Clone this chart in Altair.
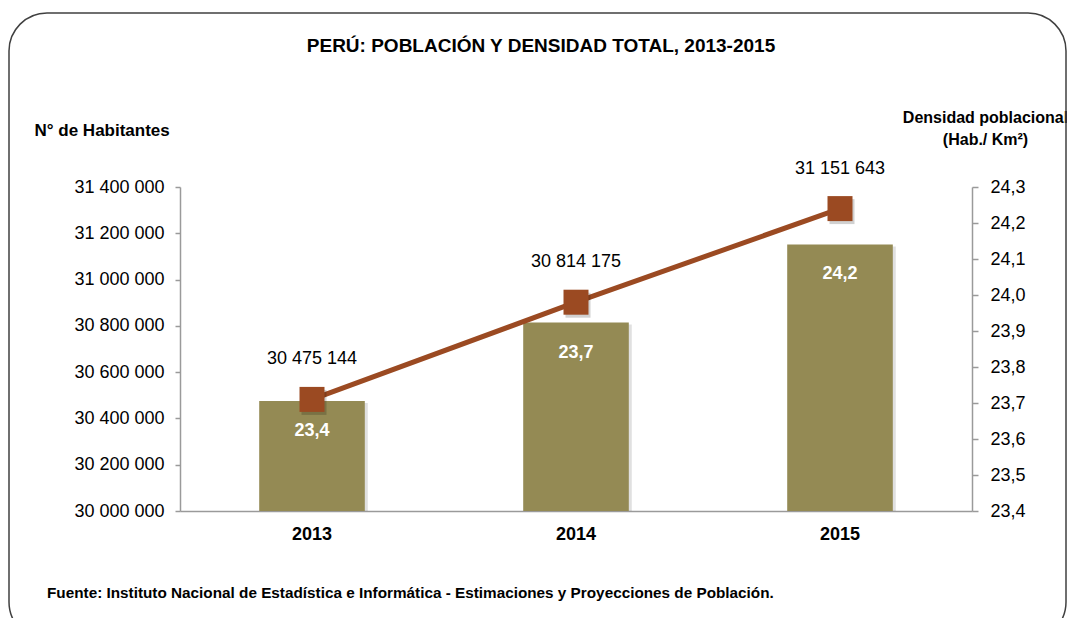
import altair as alt
import pandas as pd

# ---------------- data ----------------
anios = ["2013", "2014", "2015"]
poblacion = [30475144, 30814175, 31151643]
densidad_etiqueta = [23.4, 23.7, 24.2]
densidad_linea = [23.71, 23.98, 24.24]

ticks_pob = [30000000, 30200000, 30400000, 30600000, 30800000,
             31000000, 31200000, 31400000]
ticks_dens = [23.4, 23.5, 23.6, 23.7, 23.8, 23.9, 24.0, 24.1, 24.2, 24.3]

titulo = ["PERÚ: POBLACIÓN Y DENSIDAD TOTAL, 2013-2015"]
titulo_izq = "N° de Habitantes"
titulo_der = ["Densidad poblacional", "(Hab./ Km²)"]
fuente = ["Fuente: Instituto Nacional de Estadística e Informática - Estimaciones y Proyecciones de Población."]

df = pd.DataFrame({
    "anio": anios,
    "poblacion": poblacion,
    "densidad_barra": densidad_etiqueta,
    "densidad": densidad_linea,
})

FONT = "Liberation Sans"
OLIVA = "#948A54"
OXIDO = "#9B4A22"
GRIS = "#9A9A9A"

base = alt.Chart(df).encode(
    x=alt.X(
        "anio:N", title=None,
        scale=alt.Scale(paddingInner=0.6, paddingOuter=0.3),
        axis=alt.Axis(labelAngle=0, labelFontSize=18, labelFontWeight="bold",
                      ticks=False, labelPadding=14, domainColor=GRIS,
                      domainWidth=1.5, labelColor="#000000"),
    )
)

y_pob = alt.Y(
    "poblacion:Q",
    scale=alt.Scale(domain=[30000000, 31400000], nice=False, zero=False),
    axis=alt.Axis(values=ticks_pob, format=",d", grid=False,
                  title=titulo_izq, titleAngle=0, titleX=-146, titleY=-57,
                  titleAlign="left", titleBaseline="middle", titleFontSize=17,
                  titleFontWeight="bold", titleColor="#000000",
                  labelFontSize=18, labelColor="#000000", tickSize=5,
                  labelPadding=11, domainColor=GRIS, domainWidth=1.5,
                  tickColor=GRIS, tickWidth=1.5),
)

y_den = alt.Y(
    "densidad:Q",
    scale=alt.Scale(domain=[23.4, 24.3], nice=False, zero=False),
    axis=alt.Axis(orient="right", values=ticks_dens, format=".1f", grid=False,
                  title=titulo_der, titleAngle=0, titleX=13, titleY=-78,
                  titleAlign="center", titleBaseline="top", titleLineHeight=22,
                  titleFontSize=16, titleFontWeight="bold", titleColor="#000000",
                  labelFontSize=18, labelColor="#000000", tickSize=6,
                  labelPadding=12, domainColor=GRIS, domainWidth=1.5,
                  tickColor=GRIS, tickWidth=1.5),
)

barras_sombra = base.mark_bar(color="#000000", opacity=0.12, xOffset=3,
                              yOffset=2, clip=True).encode(y=y_pob)
barras = base.mark_bar(color=OLIVA, clip=True).encode(y=y_pob)
etiquetas_barras = base.mark_text(color="white", fontWeight="bold", fontSize=18,
                                  dy=30, baseline="middle").encode(
    y=y_pob, text=alt.Text("densidad_barra:Q", format=".1f"))
izquierda = alt.layer(barras_sombra, barras, etiquetas_barras)

linea = base.mark_line(color=OXIDO, strokeWidth=5).encode(y=y_den)
cuadros_sombra = base.mark_square(size=625, color="#000000", opacity=0.18,
                                  xOffset=2, yOffset=3).encode(y=y_den)
cuadros = base.mark_square(size=625, color=OXIDO, opacity=1).encode(y=y_den)
etiquetas_pob = base.mark_text(fontSize=18, dy=-40, color="#000000",
                               baseline="middle").encode(
    y=y_den, text=alt.Text("poblacion:Q", format=",d"))
derecha = alt.layer(linea, cuadros_sombra, cuadros, etiquetas_pob)

# decoration: frame, title, source
borde = alt.Chart(pd.DataFrame({"k": [0]})).mark_rect(
    fillOpacity=0, stroke="#404040", strokeWidth=1.5, cornerRadius=38
).encode(x=alt.value(-171), x2=alt.value(886), y=alt.value(-174), y2=alt.value(453))

texto_titulo = alt.Chart(pd.DataFrame({"t": titulo})).mark_text(
    fontSize=19, fontWeight="bold", align="center", baseline="middle", color="#000000"
).encode(text="t:N", x=alt.value(361), y=alt.value(-141))

texto_fuente = alt.Chart(pd.DataFrame({"t": fuente})).mark_text(
    fontSize=15.3, fontWeight="bold", align="left", baseline="middle", color="#000000"
).encode(text="t:N", x=alt.value(-133), y=alt.value(406))

chart = alt.layer(
    borde, texto_titulo, texto_fuente, izquierda, derecha
).resolve_scale(y="independent").properties(
    width=792, height=324,
    padding={"left": 172, "top": 179, "right": 95, "bottom": 107},
    autosize=alt.AutoSizeParams(type="none"),
).configure(
    font=FONT,
    locale={"number": {"decimal": ",", "thousands": " ", "grouping": [3],
                       "currency": ["", ""]}},
).configure_view(strokeWidth=0)

chart.save("out.html", embed_options={"renderer": "svg", "actions": False})
